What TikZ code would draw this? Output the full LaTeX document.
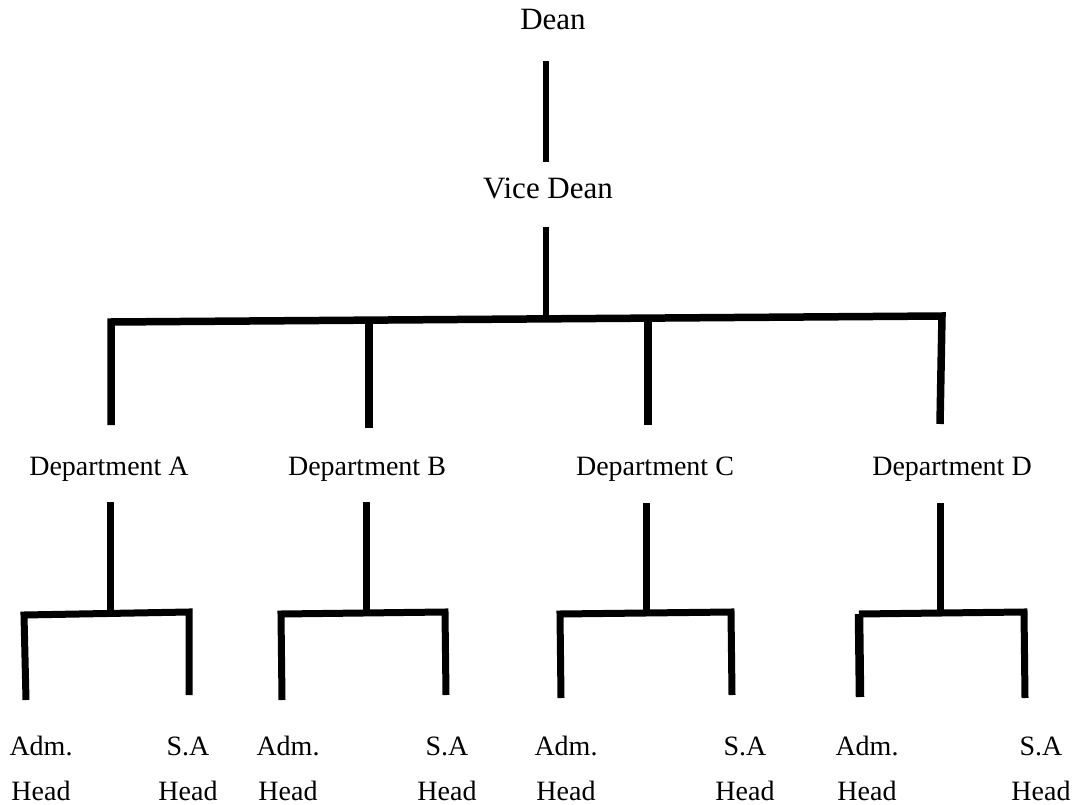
\documentclass[tikz,border=0pt]{standalone}
\usepackage{fontspec}
\setmainfont{Liberation Serif}
\begin{document}
\begin{tikzpicture}[x=1pt,y=-1pt,
  toplabel/.style={inner sep=0pt,font=\fontsize{31}{37}\selectfont,anchor=base},
  deplabel/.style={inner sep=0pt,font=\fontsize{28}{34}\selectfont,anchor=base},
  leaflabel/.style={inner sep=0pt,font=\fontsize{28}{45}\selectfont,align=center,anchor=base},
  linktop/.style={line width=6pt,line join=miter},
  linkbar/.style={line width=7.5pt,line join=miter},
  linksub/.style={line width=7pt,line join=miter}]
\useasboundingbox (0,0) rectangle (1076,805);

% labels
\node[toplabel] (dean) at (553,30) {Dean};
\node[toplabel] (vdean) at (548,199) {Vice Dean};
\node[deplabel] (depA) at (109,475) {Department A};
\node[deplabel] (depB) at (367,475) {Department B};
\node[deplabel] (depC) at (655,475) {Department C};
\node[deplabel] (depD) at (952,475) {Department D};

\node[leaflabel] (admA) at (41,800) {Adm.\\Head};
\node[leaflabel] (saA)  at (188,800) {S.A\\Head};
\node[leaflabel] (admB) at (288,800) {Adm.\\Head};
\node[leaflabel] (saB)  at (447,800) {S.A\\Head};
\node[leaflabel] (admC) at (566,800) {Adm.\\Head};
\node[leaflabel] (saC)  at (745,800) {S.A\\Head};
\node[leaflabel] (admD) at (867,800) {Adm.\\Head};
\node[leaflabel] (saD)  at (1041,800) {S.A\\Head};

% junction coordinates
\coordinate (deanlo) at (546,61);
\coordinate (vdeanhi) at (546,162);
\coordinate (vdeanlo) at (546,227);
\coordinate (barmid) at (546,319);
\coordinate (barL) at (111,322);
\coordinate (barR) at (942,316);
\coordinate (barB) at (369,320);
\coordinate (barC) at (648,318);
\coordinate (topA) at (111,425);
\coordinate (topB) at (369,428);
\coordinate (topC) at (648,425);
\coordinate (topD) at (940,424);

% top connectors
\draw[linktop] (deanlo) -- (vdeanhi);
\draw[linktop] (vdeanlo) -- (barmid);
\draw[linkbar] (topA) -- (barL) -- (barR) -- (topD);
\draw[linkbar] (barB) -- (topB);
\draw[linkbar] (barC) -- (topC);

% department A
\coordinate (aA) at (110,502); \coordinate (aAj) at (110,613);
\coordinate (aAl) at (24,615); \coordinate (aAr) at (189,612);
\coordinate (aAlb) at (26,700); \coordinate (aArb) at (189,695);
\draw[linksub] (aA) -- (aAj);
\draw[linksub] (aAlb) -- (aAl) -- (aAr) -- (aArb);

% department B
\coordinate (aB) at (366,502); \coordinate (aBj) at (366,612);
\coordinate (aBl) at (281,614); \coordinate (aBr) at (445,612);
\coordinate (aBlb) at (282,700); \coordinate (aBrb) at (446,695);
\draw[linksub] (aB) -- (aBj);
\draw[linksub] (aBlb) -- (aBl) -- (aBr) -- (aBrb);

% department C
\coordinate (aC) at (646,503); \coordinate (aCj) at (646,612);
\coordinate (aCl) at (560,614); \coordinate (aCr) at (731,612);
\coordinate (aClb) at (561,698); \coordinate (aCrb) at (732,695);
\draw[linksub] (aC) -- (aCj);
\draw[linksub] (aClb) -- (aCl) -- (aCr) -- (aCrb);

% department D
\coordinate (aD) at (940,503); \coordinate (aDj) at (940,612);
\coordinate (aDl) at (859,614); \coordinate (aDr) at (1024,612);
\coordinate (aDlb) at (860,697); \coordinate (aDrb) at (1025,698);
\draw[linksub] (aD) -- (aDj);
\draw[linksub,line width=8.5pt] (aDlb) -- (aDl);
\draw[linksub] (aDl) -- (aDr) -- (aDrb);
\end{tikzpicture}
\end{document}
